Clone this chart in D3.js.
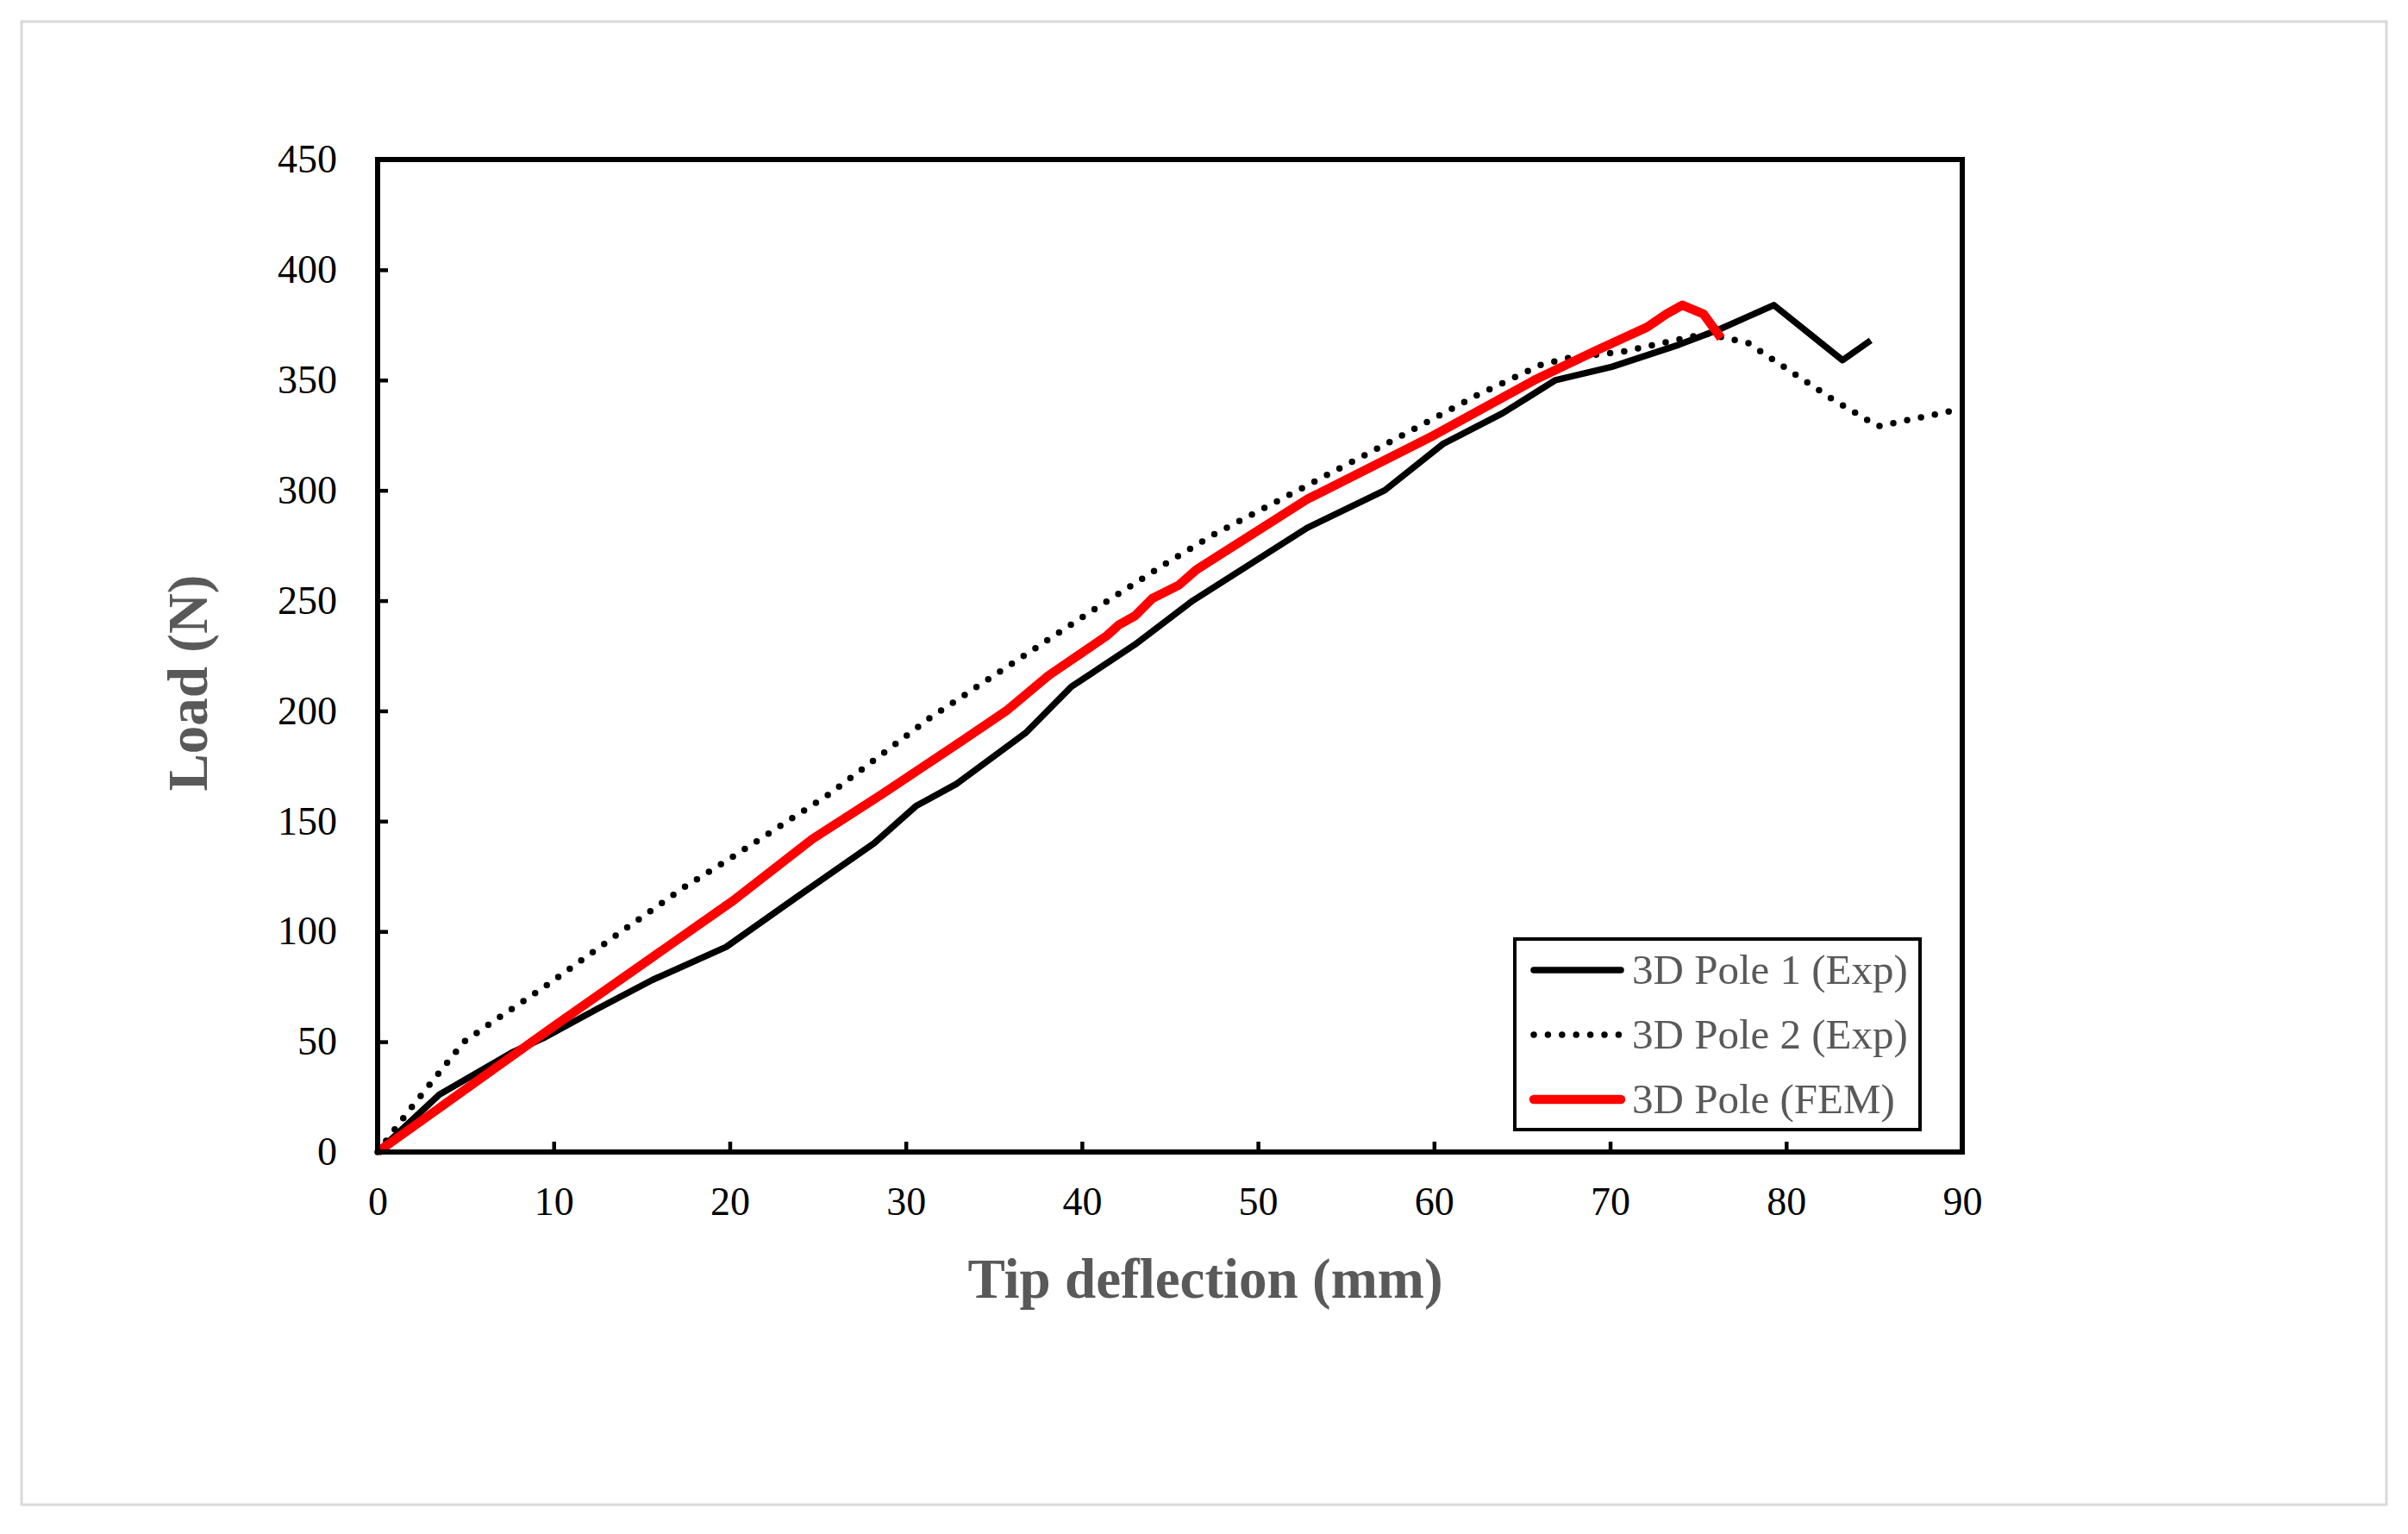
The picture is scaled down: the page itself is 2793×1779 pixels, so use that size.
<!DOCTYPE html>
<html>
<head>
<meta charset="utf-8">
<script src="https://cdn.jsdelivr.net/npm/d3@7"></script>
<style>
  body { margin: 0; background: #fff; }
  text { font-family: "Liberation Serif", "Times New Roman", serif; }
</style>
</head>
<body>
<div id="chart"></div>
<script>
// data
const pole1X = [0, 3.5, 7.6, 9.5, 12.5, 15.6, 19.8, 23.7, 28.2, 30.6, 32.9, 36.8, 39.4, 43.0, 46.3, 52.8, 57.2, 60.5, 63.9, 66.9, 70.1, 73.9, 76.2, 79.3, 83.2, 84.8];
const pole1Y = [0, 26, 45, 52, 65, 78, 93, 115, 140, 157, 167, 190, 211, 230, 250, 283, 300, 321, 335, 350, 356, 366, 373, 384, 359, 368];

const pole2X = [0, 1.9, 3.4, 4.9, 6.9, 9.5, 13.5, 17.4, 20.2, 25.6, 31.4, 36.7, 40.7, 44.8, 47.5, 52.5, 57.5, 62.4, 66.1, 67.6, 70.8, 75.4, 77.8, 82.5, 85.2, 87.6, 90];
const pole2Y = [0, 20, 35, 50, 61, 75, 98, 120, 134, 162, 197, 225, 246, 267, 280, 301, 322, 343, 357, 360, 363, 371, 367, 342, 329, 333, 337];

const femX = [0, 10, 20.2, 24.7, 28.6, 33.3, 35.7, 38.1, 41.4, 42.1, 43.0, 44.0, 45.5, 46.5, 52.8, 60.0, 65.7, 69.1, 72.1, 73.2, 74.1, 75.3, 76.3];
const femY = [0, 57, 114, 142, 162, 187, 200, 216, 234, 239, 243, 251, 257, 264, 296, 325, 350, 363, 374, 380, 384, 380, 369];

const seriesNames = ["3D Pole 1 (Exp)", "3D Pole 2 (Exp)", "3D Pole (FEM)"];
const xTicks = [0, 10, 20, 30, 40, 50, 60, 70, 80, 90];
const yTicks = [0, 50, 100, 150, 200, 250, 300, 350, 400, 450];

const W = 2793, H = 1779;
const plot = {left: 438, right: 2276, top: 185, bottom: 1336};

const svg = d3.select("#chart").append("svg")
    .attr("width", W).attr("height", H);

svg.append("rect").attr("width", W).attr("height", H).attr("fill", "#fff");
// outer light border
svg.append("rect")
    .attr("x", 25).attr("y", 25).attr("width", 2743).attr("height", 1720)
    .attr("fill", "none").attr("stroke", "#d9d9d9").attr("stroke-width", 3);

let xScale = d3.scaleLinear().domain([0, 90]).range([plot.left, plot.right]);
let yScale = d3.scaleLinear().domain([0, 450]).range([plot.bottom, plot.top]);

// axes, ticks pointing inward
let xAxis = d3.axisBottom(xScale).tickValues(xTicks).tickSize(-12).tickPadding(40);
let yAxis = d3.axisLeft(yScale).tickValues(yTicks).tickSize(-12).tickPadding(47);

let gx = svg.append("g")
    .attr("transform", "translate(0," + plot.bottom + ")")
    .call(xAxis);
let gy = svg.append("g")
    .attr("transform", "translate(" + plot.left + ",0)")
    .call(yAxis);

[gx, gy].forEach(g => {
    g.select(".domain").remove();
    g.selectAll(".tick line").attr("stroke", "#000").attr("stroke-width", 4.5);
    g.selectAll(".tick text")
        .attr("fill", "#000")
        .style("font-family", "'Liberation Serif', serif")
        .style("font-size", "46px");
});

// series
const series = [
    {name: seriesNames[0], pts: pole1X.map((x, i) => [x, pole1Y[i]])},
    {name: seriesNames[1], pts: pole2X.map((x, i) => [x, pole2Y[i]])},
    {name: seriesNames[2], pts: femX.map((x, i) => [x, femY[i]])}
];
const styles = [
    {stroke: "#000", width: 7.5, dash: null},
    {stroke: "#000", width: 7.5, dash: "0 16.4"},
    {stroke: "#ff0000", width: 10.5, dash: null}
];

let line = d3.line().x(d => xScale(d[0])).y(d => yScale(d[1]));

series.forEach((s, i) => {
    let p = svg.append("path")
        .datum(s.pts)
        .attr("d", line)
        .attr("fill", "none")
        .attr("stroke", styles[i].stroke)
        .attr("stroke-width", styles[i].width)
        .attr("stroke-linejoin", "round");
    if (styles[i].dash) {
        p.attr("stroke-dasharray", styles[i].dash).attr("stroke-linecap", "round");
    }
});

// frame
svg.append("rect")
    .attr("x", plot.left).attr("y", plot.top)
    .attr("width", plot.right - plot.left).attr("height", plot.bottom - plot.top)
    .attr("fill", "none").attr("stroke", "#000").attr("stroke-width", 6);

// axis titles
svg.append("text")
    .attr("x", 1398).attr("y", 1505)
    .attr("text-anchor", "middle")
    .attr("fill", "#595959")
    .style("font-size", "65px").style("font-weight", "bold")
    .text("Tip deflection (mm)");

svg.append("text")
    .attr("transform", "translate(240,792) rotate(-90)")
    .attr("text-anchor", "middle")
    .attr("fill", "#595959")
    .style("font-size", "65px").style("font-weight", "bold")
    .text("Load (N)");

// legend
let legend = svg.append("g");
legend.append("rect")
    .attr("x", 1757).attr("y", 1089).attr("width", 470).attr("height", 221)
    .attr("fill", "#fff").attr("stroke", "#000").attr("stroke-width", 4);

series.forEach((s, i) => {
    let ly = 1125 + i * 75;
    let l = legend.append("line")
        .attr("x1", 1779).attr("x2", 1880)
        .attr("y1", ly).attr("y2", ly)
        .attr("stroke", styles[i].stroke)
        .attr("stroke-width", styles[i].width)
        .attr("stroke-linecap", "round");
    if (styles[i].dash) l.attr("stroke-dasharray", styles[i].dash);
    legend.append("text")
        .attr("x", 1893).attr("y", ly + 16)
        .attr("fill", "#595959")
        .style("font-size", "49px")
        .text(s.name);
});
</script>
</body>
</html>
